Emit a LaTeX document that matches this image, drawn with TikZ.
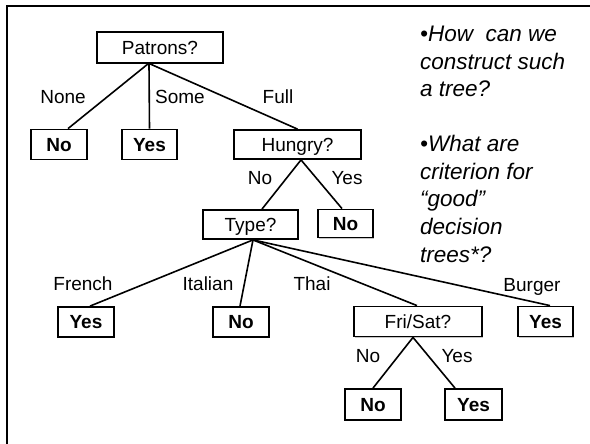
\documentclass[tikz,border=0pt]{standalone}
\usepackage{fontspec}
\setmainfont{Liberation Sans}
\usetikzlibrary{shadows}
\begin{document}
\begin{tikzpicture}[x=1pt,y=-1pt,
  box/.style={draw,line width=1.8pt,fill=white,inner sep=0pt,text height=13.6pt,text depth=0pt,
    font=\fontsize{19}{22}\selectfont,
    drop shadow={shadow xshift=1pt,shadow yshift=-1pt,fill=gray!45,opacity=1}},
  leaf/.style={box,minimum width=56pt,minimum height=30pt,font=\fontsize{19}{22}\selectfont\bfseries},
  test/.style={box,minimum height=30pt},
  lbl/.style={anchor=base,inner sep=0pt,font=\fontsize{19}{22}\selectfont},
  edge/.style={line width=1.6pt},
  q/.style={anchor=base west,inner sep=0pt,font=\fontsize{22.5}{27.5}\selectfont\itshape}]
\useasboundingbox (0,0) rectangle (590,444);
\fill[white] (0,0) rectangle (590,444);
\draw[line width=2.8pt] (7,444) -- (7,6) -- (590,6);

% nodes
\node[test,minimum width=126pt,minimum height=31pt] (patrons) at (160,47.5) {Patrons?};
\node[leaf] (no1) at (59,144.5) {No};
\node[leaf,minimum width=55pt] (yes1) at (149.5,144.5) {Yes};
\node[test,minimum width=127pt,minimum height=29pt] (hungry) at (297.5,144.5) {Hungry?};
\node[test,minimum width=95pt,minimum height=29pt] (type) at (250.5,224.5) {Type?};
\node[leaf,minimum width=55pt,minimum height=28pt] (no2) at (345.5,223.5) {No};
\node[leaf] (yes2) at (86,322) {Yes};
\node[leaf] (no3) at (241,322) {No};
\node[test,minimum width=128pt] (frisat) at (418,321.5) {Fri/Sat?};
\node[leaf,minimum width=55pt] (yes3) at (545.5,321.5) {Yes};
\node[leaf,minimum height=31pt] (no4) at (373,404.5) {No};
\node[leaf,minimum width=57pt,minimum height=31pt] (yes4) at (473.5,404.5) {Yes};

% edges
\draw[edge] ([xshift=-12pt]patrons.south) -- ([xshift=9pt]no1.north);
\draw[edge] ([xshift=-11pt]patrons.south) -- (yes1.north);
\draw[edge] ([xshift=-10pt]patrons.south) -- (hungry.north);
\draw[edge] ([xshift=3.5pt]hungry.south) -- ([xshift=11.5pt]type.north);
\draw[edge] ([xshift=3.5pt]hungry.south) -- ([xshift=-3.5pt]no2.north);
\draw[edge] ([xshift=2.5pt]type.south) -- ([xshift=4pt]yes2.north);
\draw[edge] ([xshift=2.5pt]type.south) -- ([xshift=-1pt]no3.north);
\draw[edge] ([xshift=2.5pt]type.south) -- ([xshift=-1pt]frisat.north);
\draw[edge] ([xshift=2.5pt]type.south) -- ([xshift=4.5pt]yes3.north);
\draw[edge] ([xshift=-5pt]frisat.south) -- (no4.north);
\draw[edge] ([xshift=-5pt]frisat.south) -- ([xshift=-18.5pt]yes4.north);

% edge labels
\node[lbl] (lnone) at (63,103.5) {None};
\node[lbl] (lsome) at (180,103.5) {Some};
\node[lbl] (lfull) at (278,103.5) {Full};
\node[lbl] (lhno) at (260,185) {No};
\node[lbl] (lhyes) at (347,185) {Yes};
\node[lbl] (lfrench) at (83,290.5) {French};
\node[lbl] (litalian) at (208,290.5) {Italian};
\node[lbl] (lthai) at (312,290.5) {Thai};
\node[lbl] (lburger) at (532,291) {Burger};
\node[lbl] (lfno) at (368,362) {No};
\node[lbl] (lfyes) at (457,362) {Yes};

% questions
\node[q] (q1) at (420,42) {•How\ \ can we};
\node[q] (q2) at (420,69.5) {construct such};
\node[q] (q3) at (420,97) {a tree?};
\node[q] (q4) at (420,152) {•What are};
\node[q] (q5) at (420,179.5) {criterion for};
\node[q] (q6) at (420,207) {“good”};
\node[q] (q7) at (420,234.5) {decision};
\node[q] (q8) at (420,262) {trees*?};
\end{tikzpicture}
\end{document}
